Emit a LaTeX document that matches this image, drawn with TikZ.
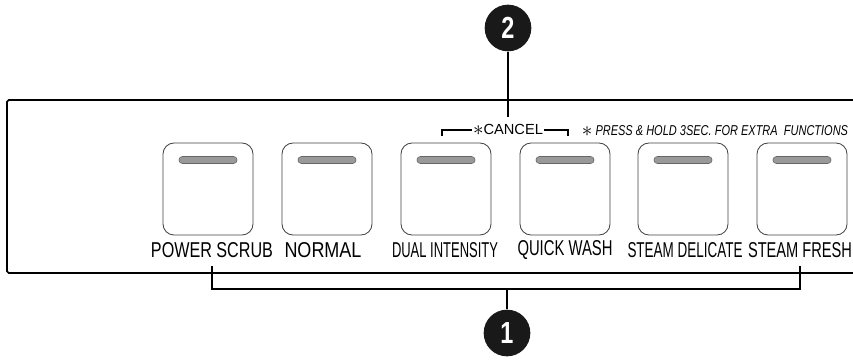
\documentclass[tikz,border=0pt]{standalone}
\usepackage{graphicx}
\usepackage{fontspec}
\setmainfont{Liberation Sans}[FakeStretch=0.77]
\newfontfamily\widesans{Liberation Sans}
\usetikzlibrary{positioning}

% key names are squeezed to the width they have on the panel
\newcommand{\keyname}[2]{\resizebox{#1cm}{0.45cm}{#2}}
\newcommand{\bigast}{\raisebox{-0.1ex}{\scalebox{1.5}{$\ast$}}}

\begin{document}
\begin{tikzpicture}[x=0.03cm, y=-0.03cm,
        panel/.style={line width=1.4pt, rounded corners=1.5pt},
        bracket/.style={line width=1pt},
        button/.style={draw=black!75, line width=0.7pt, rounded corners=0.33cm,
            minimum width=2.7cm, minimum height=2.76cm, inner sep=0pt},
        lamp/.style={draw=black!60, fill=black!40, line width=0.5pt,
            minimum width=1.74cm, minimum height=0.21cm, rounded corners=0.1cm, inner sep=0pt},
        caption/.style={font=\widesans\fontsize{17.9}{20}\selectfont, inner sep=1pt},
        num/.style={circle, fill=black!90, text=white, minimum size=1.4cm, inner sep=0pt,
            font=\fontsize{26}{26}\selectfont\bfseries}]
    \useasboundingbox (0,0) rectangle (853,359);

    % the panel
    \draw[panel] (853,100) -- (7,100) -- (7,273) -- (853,273);

    % buttons with lamps
    \foreach \x/\name in {208/ps, 327/nm, 446/di, 565/qw, 683/sd, 802/sf} {
        \node[button] (\name) at (\x,189) {};
        \node[lamp] (lamp\name) at (\x,160) {};
    }
    % names under the buttons
    \foreach \x/\w/\name/\txt in {212/3.66/ps/POWER SCRUB, 323/2.31/nm/NORMAL,
            445/3.18/di/DUAL INTENSITY, 565/2.85/qw/QUICK WASH,
            685/3.45/sd/STEAM DELICATE, 800/3.12/sf/STEAM FRESH} {
        \node[caption] (l\name) at (\x,250) {\keyname{\w}{\txt}};
    }

    % cancel hint
    \node[inner sep=1pt, font=\widesans\fontsize{12.5}{14}\selectfont] (cancel) at (508,130) {\bigast CANCEL};
    \draw[bracket] (442,136) -- (442,130) -- (cancel.west);
    \draw[bracket] (cancel.east) -- (568,130) -- (568,136);
    \node[inner sep=0pt, font=\fontsize{12.2}{14}\selectfont\itshape] (hold) at (715,131)
        {\bigast\ PRESS \& HOLD 3SEC. FOR EXTRA\ \ FUNCTIONS};

    % callouts
    \node[num] (n2) at (508,28) {2};
    \coordinate (c2) at (508,117);
    \draw[bracket] (n2) -- (c2);

    \node[num] (n1) at (507,333) {1};
    \draw[bracket] (lps |- 0,266) -- (lps |- 0,289) -| (lsf |- 0,266);
    \draw[bracket] (n1) -- (n1 |- 0,289);
\end{tikzpicture}
\end{document}
